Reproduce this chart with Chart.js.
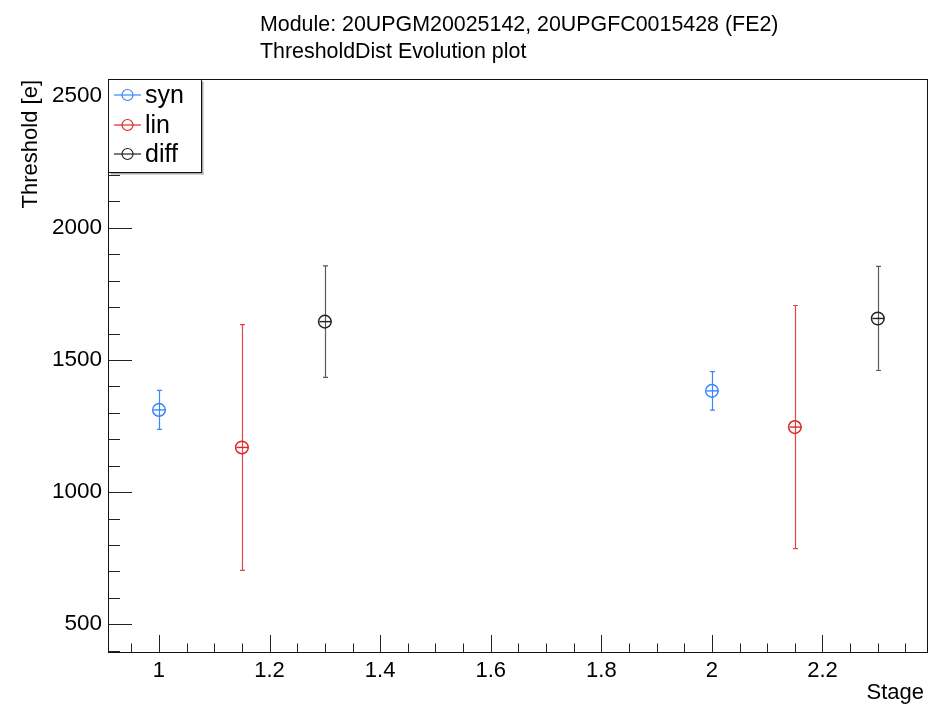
<!DOCTYPE html>
<html><head><meta charset="utf-8">
<script src="https://cdn.jsdelivr.net/npm/chart.js@4/dist/chart.umd.min.js"></script>
<style>html,body{margin:0;padding:0;background:#fff}</style>
</head><body>
<canvas id="c" width="930" height="708"></canvas>
<script>
// ---- data ----
const seriesNames = ['syn', 'lin', 'diff'];
const synX = [1, 2];
const synY = [1311, 1383];
const synErr = [74, 73];
const linX = [1.15, 2.15];
const linY = [1169, 1246];
const linErr = [465, 460];
const diffX = [1.3, 2.3];
const diffY = [1645, 1657];
const diffErr = [211, 197];
const xTickLabels = [1, 1.2, 1.4, 1.6, 1.8, 2, 2.2];
const yTickLabels = [500, 1000, 1500, 2000, 2500];
const titleLines = ['Module: 20UPGM20025142, 20UPGFC0015428 (FE2)', 'ThresholdDist Evolution plot'];
const xTitle = 'Stage';
const yTitle = 'Threshold [e]';

const FONT = '"Liberation Sans", Arial, Helvetica, sans-serif';
const colors = {syn: '#3a86ff', lin: '#dd2727', diff: '#222222'};
const errColors = {syn: '#3a86ff', lin: '#e04848', diff: '#5a5a5a'};

function mk(name, xs, ys, es) {
  return {
    label: name,
    data: xs.map((x, i) => ({x: x, y: ys[i], err: es[i]})),
    pointStyle: 'circle',
    pointRadius: 6.3,
    pointBorderWidth: 1.5,
    borderColor: colors[name],
    backgroundColor: 'rgba(0,0,0,0)',
    showLine: false,
    errColor: errColors[name]
  };
}

const errorBars = {
  id: 'errorBars',
  beforeDatasetsDraw(chart) {
    const ctx = chart.ctx, xs = chart.scales.x, ys = chart.scales.y;
    chart.data.datasets.forEach(ds => {
      ctx.save();
      ds.data.forEach(p => {
        const px = Math.round(xs.getPixelForValue(p.x)) + 0.5;
        const py = ys.getPixelForValue(p.y);
        const t = ys.getPixelForValue(p.y + p.err);
        const b = ys.getPixelForValue(p.y - p.err);
        ctx.strokeStyle = ds.errColor;
        ctx.lineWidth = 1.2;
        ctx.beginPath();
        ctx.moveTo(px, t); ctx.lineTo(px, b);
        ctx.moveTo(px - 2.5, t); ctx.lineTo(px + 2.5, t);
        ctx.moveTo(px - 2.5, b); ctx.lineTo(px + 2.5, b);
        ctx.stroke();
        ctx.strokeStyle = ds.borderColor;
        ctx.lineWidth = 1.4;
        ctx.beginPath();
        ctx.moveTo(px - 6, py); ctx.lineTo(px + 6, py);
        ctx.stroke();
      });
      ctx.restore();
    });
  }
};

const frameAndText = {
  id: 'frameAndText',
  afterDraw(chart) {
    const ctx = chart.ctx, a = chart.chartArea, xs = chart.scales.x, ys = chart.scales.y;
    ctx.save();
    // frame
    ctx.strokeStyle = '#111';
    ctx.lineWidth = 1;
    ctx.strokeRect(Math.round(a.left) + 0.5, Math.round(a.top) + 0.5,
                   Math.round(a.right - a.left), Math.round(a.bottom - a.top));
    // y ticks (inside)
    ctx.strokeStyle = '#222';
    ctx.beginPath();
    for (let v = 400; v <= 2500; v += 100) {
      const y = Math.round(ys.getPixelForValue(v)) + 0.5;
      const len = yTickLabels.includes(v) ? 24 : 12;
      ctx.moveTo(a.left, y); ctx.lineTo(a.left + len, y);
    }
    // x ticks (inside)
    for (let k = 19; k <= 47; k++) {
      const v = k * 0.05;
      const x = Math.round(xs.getPixelForValue(v)) + 0.5;
      const major = (k % 4 === 0);
      const len = major ? 17 : 8.5;
      ctx.moveTo(x, a.bottom); ctx.lineTo(x, a.bottom - len);
    }
    ctx.stroke();

    // titles
    ctx.fillStyle = '#000';
    ctx.font = '21.4px ' + FONT;
    ctx.textAlign = 'left';
    ctx.textBaseline = 'alphabetic';
    ctx.fillText(titleLines[0], 260, 31);
    ctx.fillText(titleLines[1], 260, 58);
    // x title
    ctx.font = '22px ' + FONT;
    ctx.textAlign = 'right';
    ctx.fillText(xTitle, 924, 699);
    // y title
    ctx.save();
    ctx.translate(37, 80);
    ctx.rotate(-Math.PI / 2);
    ctx.textAlign = 'right';
    ctx.fillText(yTitle, 0, 0);
    ctx.restore();

    // legend
    const lx = Math.round(a.left) + 0.5, ly = Math.round(a.top) + 0.5, lw = 93, lh = 93;
    ctx.fillStyle = '#fff';
    ctx.fillRect(lx, ly, lw, lh);
    ctx.fillStyle = '#aaa';
    ctx.fillRect(lx + lw, ly + 2, 2, lh);
    ctx.fillRect(lx + 2, ly + lh, lw, 2);
    ctx.strokeStyle = '#111';
    ctx.strokeRect(lx, ly, lw, lh);
    const rows = [95, 125, 154];
    chart.data.datasets.forEach((ds, i) => {
      const y = rows[i];
      ctx.strokeStyle = ds.borderColor;
      ctx.lineWidth = 1.2;
      ctx.beginPath();
      ctx.moveTo(114, y); ctx.lineTo(141, y);
      ctx.stroke();
      ctx.beginPath();
      ctx.arc(127.5, y, 5.5, 0, Math.PI * 2);
      ctx.stroke();
      ctx.fillStyle = '#000';
      ctx.font = '25px ' + FONT;
      ctx.textAlign = 'left';
      ctx.textBaseline = 'middle';
      ctx.fillText(ds.label, 145, y + 1);
    });
    ctx.restore();
  }
};

new Chart(document.getElementById('c'), {
  type: 'scatter',
  data: {
    datasets: [
      mk(seriesNames[0], synX, synY, synErr),
      mk(seriesNames[1], linX, linY, linErr),
      mk(seriesNames[2], diffX, diffY, diffErr)
    ]
  },
  options: {
    responsive: false,
    animation: false,
    events: [],
    layout: {autoPadding: false, padding: {left: 0, top: 79, right: 3, bottom: 0}},
    plugins: {legend: {display: false}, title: {display: false}, tooltip: {enabled: false}},
    scales: {
      x: {
        type: 'linear', min: 0.9078, max: 2.389,
        grid: {display: false, drawTicks: false, tickLength: 0},
        border: {display: false},
        afterFit: s => { s.height = 56; s.paddingLeft = 0; s.paddingRight = 0; },
        afterBuildTicks: s => { s.ticks = xTickLabels.map(v => ({value: v})); },
        ticks: {
          autoSkip: false, maxRotation: 0, padding: 6, color: '#000',
          font: {family: FONT, size: 22},
          callback: v => String(v)
        }
      },
      y: {
        type: 'linear', min: 395, max: 2563,
        grid: {display: false, drawTicks: false, tickLength: 0},
        border: {display: false},
        afterFit: s => { s.width = 108; s.paddingTop = 0; s.paddingBottom = 0; },
        afterBuildTicks: s => { s.ticks = yTickLabels.map(v => ({value: v})); },
        ticks: {
          autoSkip: false, padding: 6, color: '#000',
          font: {family: FONT, size: 22.5},
          callback: v => String(v)
        }
      }
    }
  },
  plugins: [errorBars, frameAndText]
});
</script>
</body></html>
